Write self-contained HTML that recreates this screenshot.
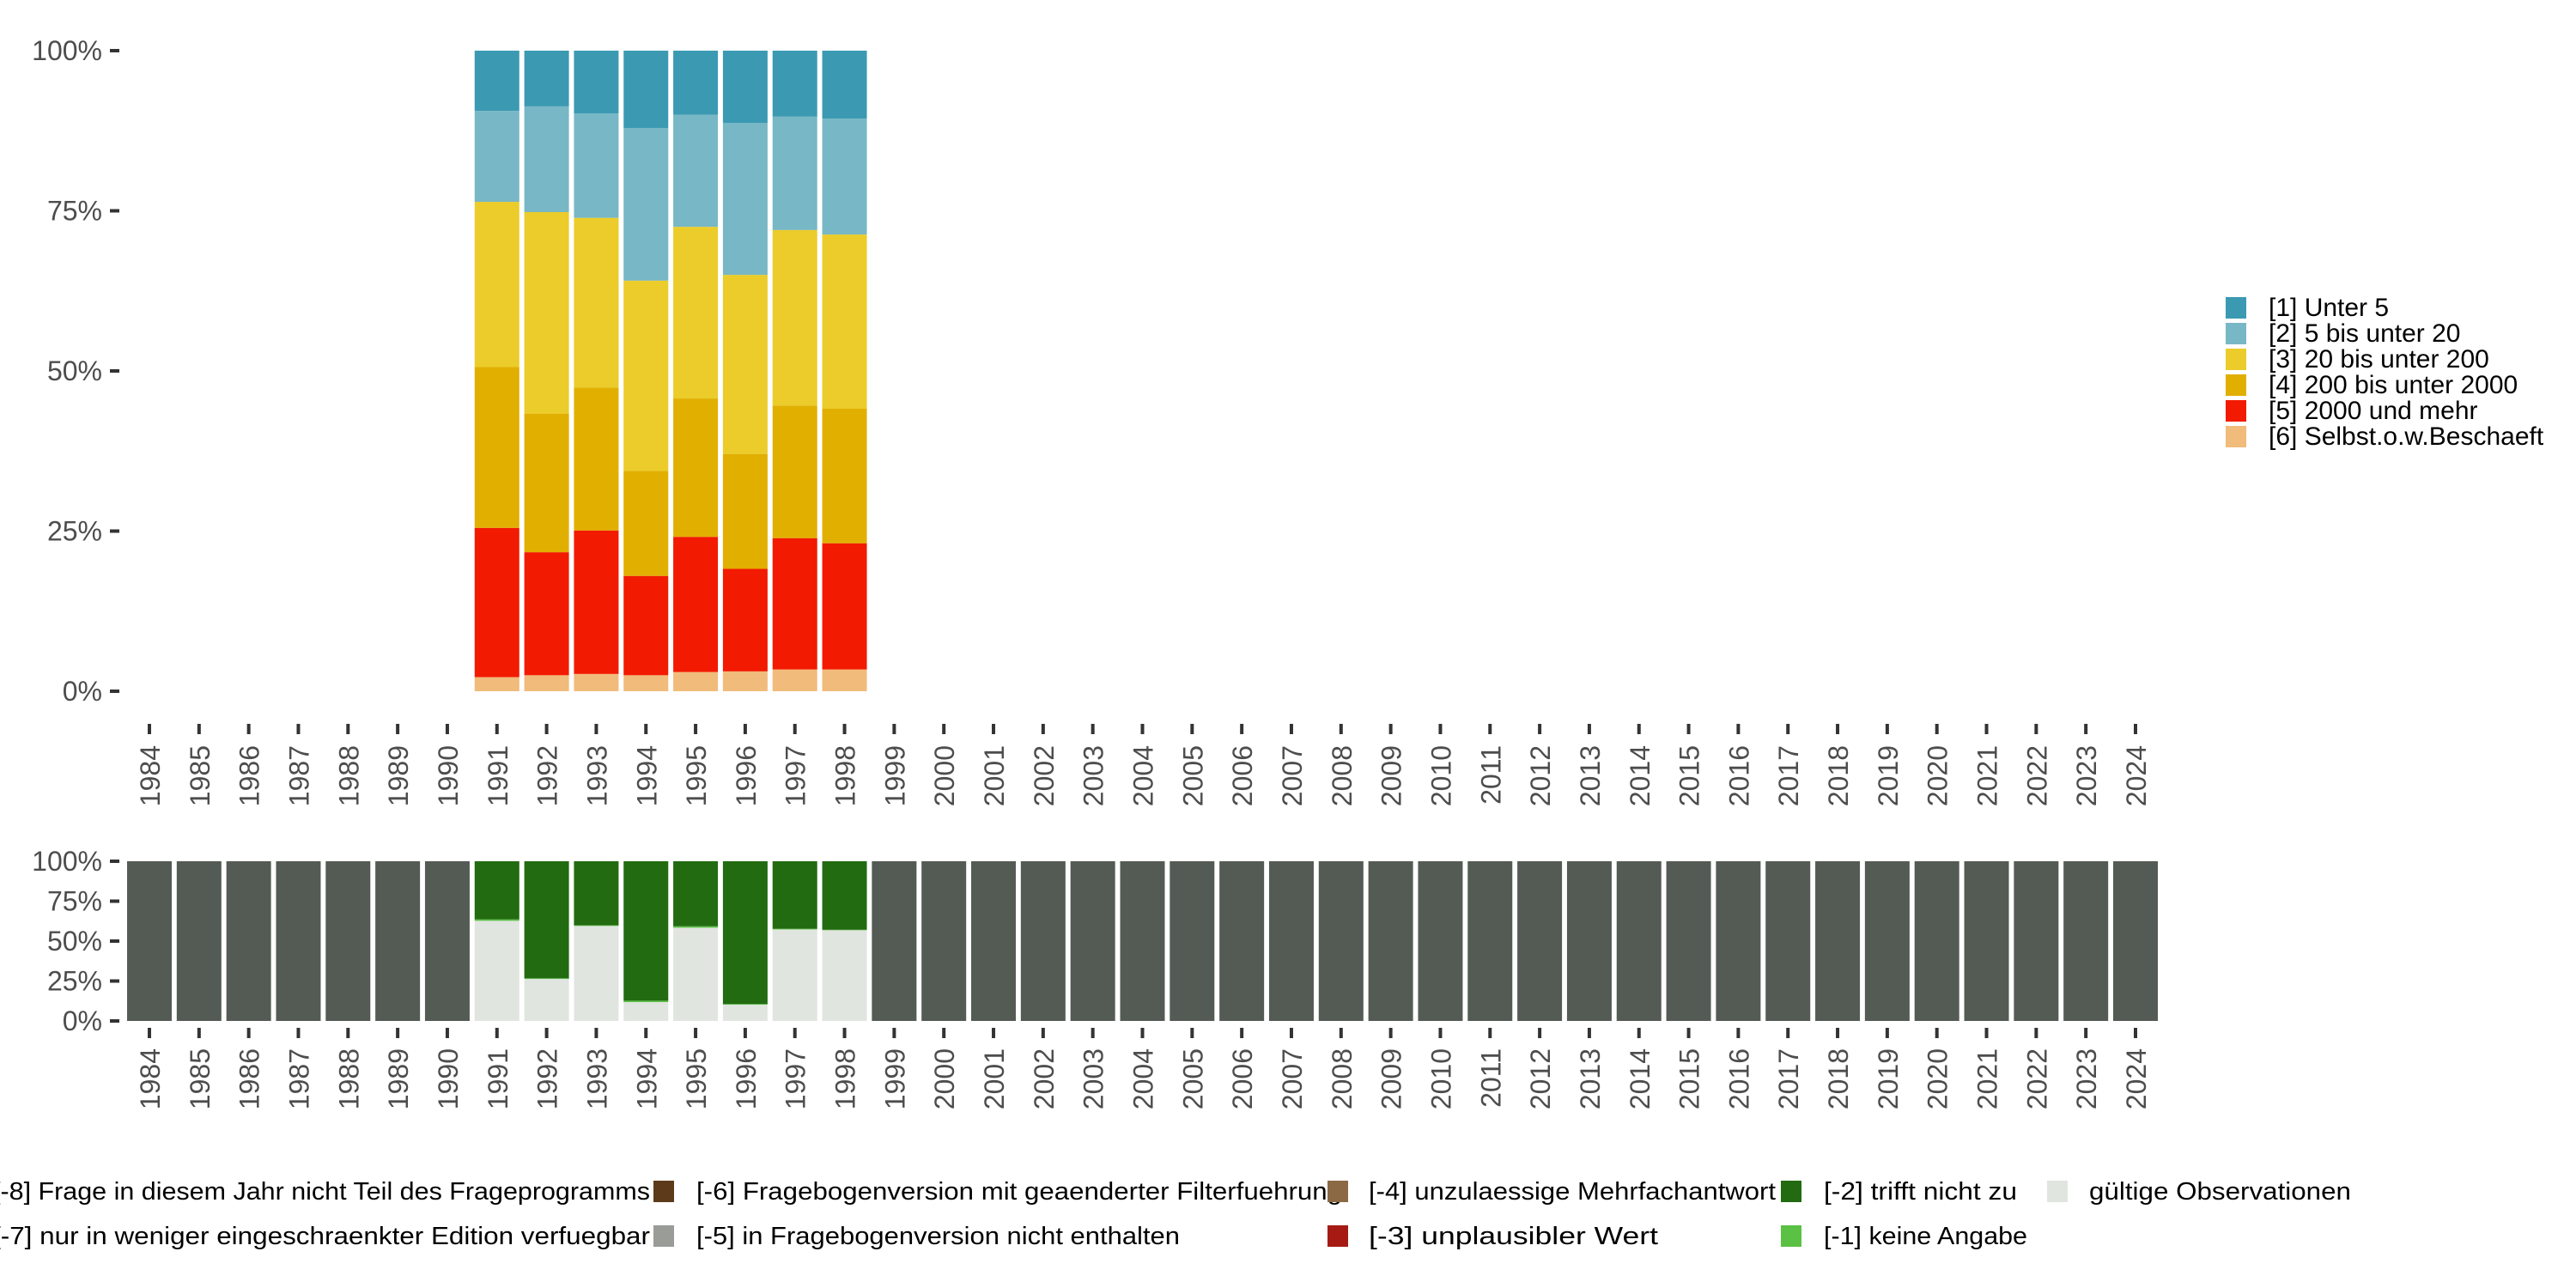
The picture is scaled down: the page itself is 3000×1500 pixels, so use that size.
<!DOCTYPE html>
<html><head><meta charset="utf-8">
<style>
html,body{margin:0;padding:0;background:#fff;}
svg{display:block;font-family:"Liberation Sans",sans-serif;}
</style></head>
<body>
<svg id="chart" width="3000" height="1500" viewBox="0 0 3000 1500" xmlns="http://www.w3.org/2000/svg">
<g id="top-plot"></g>
<g id="bottom-plot"></g>
<g id="right-legend"></g>
<g id="bottom-legend"></g>
</svg>
<script>
const years = [];
for (let y = 1984; y <= 2024; y++) years.push(y);
const dataYears = [1991,1992,1993,1994,1995,1996,1997,1998];
const seriesNames = ["[1] Unter 5","[2] 5 bis unter 20","[3] 20 bis unter 200","[4] 200 bis unter 2000","[5] 2000 und mehr","[6] Selbst.o.w.Beschaeft"];
const seriesColors = ["#3b9ab2","#78b7c5","#ebcc2a","#e1af00","#f21a00","#f1bb7b"];
// shares in percent, per year 1991..1998
const s6 = [2.2,2.5,2.7,2.5,3.0,3.1,3.4,3.4];
const s5 = [23.3,19.2,22.4,15.5,21.1,16.0,20.5,19.7];
const s4 = [25.1,21.6,22.3,16.4,21.6,17.9,20.7,21.0];
const s3 = [25.8,31.5,26.5,29.7,26.8,28.0,27.4,27.2];
const s2 = [14.2,16.5,16.3,23.8,17.5,23.7,17.7,18.1];
const s1 = [9.4,8.7,9.8,12.1,10.0,11.3,10.3,10.6];
const yTicks = [0,25,50,75,100];
const yTickLabels = ["0%","25%","50%","75%","100%"];
// bottom panel, percent
const validShare = [62.7,26.3,59.5,11.8,58.4,10.2,57.3,56.8];
const noAnswerShare = [0.9,0.4,0.4,0.9,0.9,0.4,0.4,0.3];
const bottomLegendLabels = [
 ["[-8] Frage in diesem Jahr nicht Teil des Frageprogramms","[-7] nur in weniger eingeschraenkter Edition verfuegbar"],
 ["[-6] Fragebogenversion mit geaenderter Filterfuehrung","[-5] in Fragebogenversion nicht enthalten"],
 ["[-4] unzulaessige Mehrfachantwort","[-3] unplausibler Wert"],
 ["[-2] trifft nicht zu","[-1] keine Angabe"],
 ["gültige Observationen"]
];
const bottomLegendColors = [["#545b55","#9a9c98"],["#5c3a1a","#9a9c98"],["#8b6944","#a51b14"],["#226b11","#5bc144"],["#e1e5e0"]];

const NS = "http://www.w3.org/2000/svg";
function mk(tag, attrs, parent){const e=document.createElementNS(NS,tag);for(const k in attrs)e.setAttribute(k,attrs[k]);parent.appendChild(e);return e;}
const xC = y => 174 + (y-1984)*57.825;
const BW = 52;
const yTop = v => 805 - v/100*746;
const yBot = v => 1189 - v/100*186;

function axes(g, yf, tickY0, labelTop, prefix){
  yTicks.forEach((t,i)=>{
    const tk=mk("line",{x1:128,x2:139,y1:yf(t),y2:yf(t),stroke:"#333",["stroke-width"]:4},g);
    
    
    const tx=mk("text",{x:119,y:yf(t)+11,"text-anchor":"end","font-size":32,fill:"#4d4d4d"},g);
    tx.textContent=yTickLabels[i];
    
    
  });
  years.forEach(y=>{
    const tk=mk("line",{x1:xC(y),x2:xC(y),y1:tickY0,y2:tickY0+12,stroke:"#333",["stroke-width"]:4},g);
    
    
    const tx=mk("text",{transform:`translate(${xC(y)+12},${labelTop}) rotate(-90)`,"text-anchor":"end","font-size":32,fill:"#4d4d4d"},g);
    tx.textContent=y;
    
    
  });
}

// top plot
const gt=document.getElementById("top-plot");
const series=[s6,s5,s4,s3,s2,s1];
const sColors=[seriesColors[5],seriesColors[4],seriesColors[3],seriesColors[2],seriesColors[1],seriesColors[0]];
dataYears.forEach((yr,i)=>{
  let cum=0;
  series.forEach((s,k)=>{
    const a=cum, b=(k===series.length-1)?100:cum+s[i];
    const r=mk("rect",{x:xC(yr)-BW/2,y:yTop(b),width:BW,height:yTop(a)-yTop(b),fill:sColors[k]},gt);
    
    
    cum=b;
  });
});
axes(gt,yTop,843,868,"top");

// bottom plot
const gb=document.getElementById("bottom-plot");
years.forEach(yr=>{
  const i=dataYears.indexOf(yr);
  if(i<0){
    const r=mk("rect",{x:xC(yr)-BW/2,y:yBot(100),width:BW,height:yBot(0)-yBot(100),fill:"#545b55"},gb);
    
    
  } else {
    const v=validShare[i], n=noAnswerShare[i];
    const r1=mk("rect",{x:xC(yr)-BW/2,y:yBot(v),width:BW,height:yBot(0)-yBot(v),fill:"#e1e5e0"},gb);
    
    
    const r2=mk("rect",{x:xC(yr)-BW/2,y:yBot(v+n),width:BW,height:yBot(v)-yBot(v+n),fill:"#5bc144"},gb);
    
    
    const r3=mk("rect",{x:xC(yr)-BW/2,y:yBot(100),width:BW,height:yBot(v+n)-yBot(100),fill:"#226b11"},gb);
    
    
  }
});
axes(gb,yBot,1197,1221,"bottom");

// right legend
const gl=document.getElementById("right-legend");
seriesNames.forEach((n,i)=>{
  const y=346+i*30;
  const k=mk("rect",{x:2592,y:y,width:24,height:25,fill:seriesColors[i]},gl);
  
  
  const t=mk("text",{x:2642,y:y+22,"font-size":30,fill:"#000"},gl);
  t.textContent=n;
  
  
});

// bottom legend
const gbl=document.getElementById("bottom-legend");
const colX=[-60,761,1546,2074,2384];
const textX=[-8,811,1594,2124,2433];
const textLen=[[765,765],[752,563],[474,337],[225,237],[305]];
bottomLegendLabels.forEach((col,c)=>{
  col.forEach((lab,r)=>{
    const y=1375+r*52;
    const k=mk("rect",{x:colX[c],y:y,width:24,height:25,fill:bottomLegendColors[c][r]},gbl);
    
    
    const t=mk("text",{x:textX[c],y:y+22,"font-size":29,fill:"#000",textLength:textLen[c][r],lengthAdjust:"spacingAndGlyphs"},gbl);
    t.textContent=lab;
    
    
  });
});
</script>
</body></html>
